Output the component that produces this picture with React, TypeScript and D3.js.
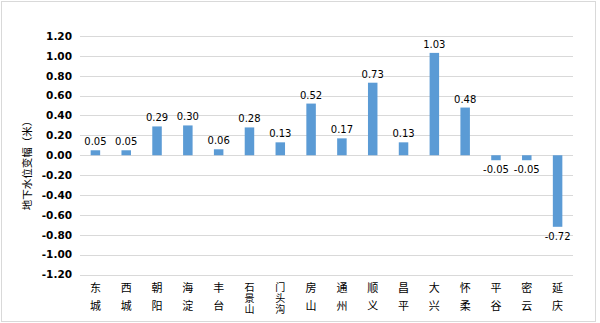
import React from "react";
import * as d3 from "d3";

const categories = ["东城", "西城", "朝阳", "海淀", "丰台", "石景山", "门头沟", "房山", "通州", "顺义", "昌平", "大兴", "怀柔", "平谷", "密云", "延庆"];
const values = [0.05, 0.05, 0.29, 0.30, 0.06, 0.28, 0.13, 0.52, 0.17, 0.73, 0.13, 1.03, 0.48, -0.05, -0.05, -0.72];
const yTicks = [1.2, 1.0, 0.8, 0.6, 0.4, 0.2, 0, -0.2, -0.4, -0.6, -0.8, -1.0, -1.2];
const yTitle = "地下水位变幅（米）";

export default function App() {
  const W = 600, H = 323;
  const left = 80, right = 573, top = 36, bottom = 274.5;
  const x = d3.scaleBand<string>().domain(categories).range([left, right]).paddingInner(0).paddingOuter(0);
  const y = d3.scaleLinear().domain([-1.2, 1.2]).range([bottom, top]);
  const bw = 9.5;
  const fmt = (v: number) => d3.format(".2f")(v).replace("−", "-");
  return (
    <svg width={W} height={H} style={{ position: "absolute", left: 0, top: 0 }}>
      <rect x={0} y={0} width={W} height={H} fill="#fff" />
      <rect x={1.5} y={1.5} width={594} height={320} fill="none" stroke="#d9d9d9" strokeWidth={1} />
      {yTicks.map((t) => (
        <g key={t}>
          <line x1={left} x2={right} y1={Math.round(y(t)) + 0.5} y2={Math.round(y(t)) + 0.5} stroke="#d9d9d9" strokeWidth={1} />
          <text x={72} y={y(t)} dy="0.36em" textAnchor="end" fontFamily="DejaVu Sans" fontWeight="bold" fontSize={10.5} fill="#000">
            {fmt(t)}
          </text>
        </g>
      ))}
      {categories.map((c, i) => {
        const v = values[i];
        const cx = x(c)! + x.bandwidth() / 2;
        const y0 = y(0), y1 = y(v);
        const three = c.length > 2;
        const fs = three ? 10 : 11;
        return (
          <g key={c}>
            <rect x={cx - bw / 2} y={Math.min(y0, y1)} width={bw} height={Math.abs(y1 - y0)} fill="#5b9bd5" />
            <text x={cx} y={v >= 0 ? y1 - 5 : y1 + 13} textAnchor="middle" fontFamily="DejaVu Sans" fontSize={10} fill="#000">
              {fmt(v)}
            </text>
            <text
              x={cx}
              y={282.5}
              fontFamily="Noto Sans CJK SC"
              fontSize={fs}
              fill="#000"
              style={{ writingMode: "vertical-rl", letterSpacing: three ? "0.8px" : "7px" }}
            >
              {c}
            </text>
          </g>
        );
      })}
      <text transform={`translate(27,${163}) rotate(-90)`} textAnchor="middle" dy="0.36em" fontFamily="Noto Sans CJK SC" fontSize={10.5} fill="#000">
        {yTitle}
      </text>
    </svg>
  );
}
